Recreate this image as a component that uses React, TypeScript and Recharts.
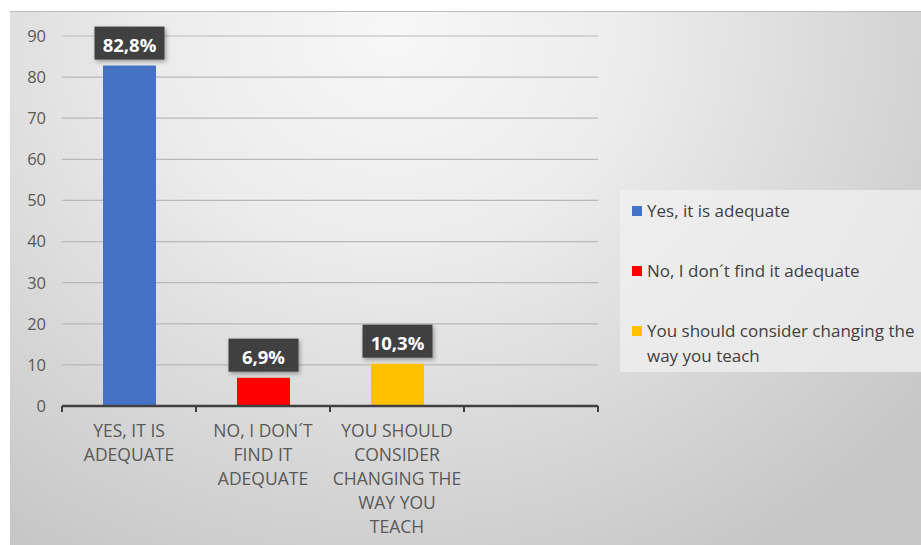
import React from "react";
import { BarChart, Bar, XAxis, YAxis, CartesianGrid, Cell, LabelList, Legend } from "recharts";

const categories = [
  "YES, IT IS ADEQUATE",
  "NO, I DON´T FIND IT ADEQUATE",
  "YOU SHOULD CONSIDER CHANGING THE WAY YOU TEACH",
  "",
];
const tickLines = [
  ["YES, IT IS", "ADEQUATE"],
  ["NO, I DON´T", "FIND IT", "ADEQUATE"],
  ["YOU SHOULD", "CONSIDER", "CHANGING THE", "WAY YOU", "TEACH"],
  [],
];
const values: (number | null)[] = [82.8, 6.9, 10.3, null];
const valueLabels = ["82,8%", "6,9%", "10,3%", ""];
const legendLabels = [
  "Yes, it is adequate",
  "No, I don´t find it adequate",
  "You should consider changing the way you teach",
];
const barColors = ["#4472C4", "#FF0000", "#FFC000", "#A5A5A5"];
const yTicks = [0, 10, 20, 30, 40, 50, 60, 70, 80, 90];

const data = categories.map((c, i) => ({ category: c, value: values[i] }));

const FONT = "'Open Sans', sans-serif";

const XTick = (props: any) => {
  const { x, y, index, width, visibleTicksCount } = props;
  const bw = width / visibleTicksCount;
  const lines = tickLines[index] || [];
  return (
    <g>
      <line x1={x - bw / 2} y1={y} x2={x - bw / 2} y2={y + 6} stroke="#404040" strokeWidth={2} />
      {index === visibleTicksCount - 1 && (
        <line x1={x + bw / 2} y1={y} x2={x + bw / 2} y2={y + 6} stroke="#404040" strokeWidth={2} />
      )}
      {lines.map((ln, i) => (
        <text
          key={i}
          x={x}
          y={y + 31 + i * 24}
          textAnchor="middle"
          fill="#595959"
          fontSize={17.5}
          fontFamily={FONT}
        >
          {ln}
        </text>
      ))}
    </g>
  );
};

const renderLabel = (props: any) => {
  const { x, y, width, index } = props;
  if (values[index] == null) return null;
  const cx = Number(x) + Number(width) / 2;
  const boxW = 70;
  const boxH = 33;
  const top = Number(y) - 6 - boxH;
  return (
    <g>
      <rect x={cx - boxW / 2} y={top} width={boxW} height={boxH} fill="#404040" filter="url(#lblShadow)" />
      <text
        x={cx}
        y={top + boxH / 2 + 1}
        textAnchor="middle"
        dominantBaseline="central"
        fill="#ffffff"
        fontWeight={700}
        fontSize={18.5}
        fontFamily={FONT}
      >
        {valueLabels[index]}
      </text>
    </g>
  );
};

const LegendContent = () => (
  <div
    style={{
      width: 301,
      height: 182,
      boxSizing: "border-box",
      background: "rgba(240,240,240,0.75)",
      paddingTop: 8,
      paddingLeft: 12,
      fontFamily: FONT,
      fontSize: 17,
      color: "#404040",
      textAlign: "left",
    }}
  >
    {legendLabels.map((l, i) => (
      <div key={i} style={{ display: "flex", alignItems: "flex-start", marginBottom: 35, lineHeight: "25px" }}>
        <div style={{ width: 10, height: 10, background: barColors[i], marginTop: 7.5, marginRight: 5, flex: "none" }} />
        <div style={{ flex: 1 }}>{l}</div>
      </div>
    ))}
  </div>
);

export default function App() {
  return (
    <div style={{ position: "absolute", left: 0, top: 0, width: 921, height: 545, background: "#ffffff", overflow: "hidden" }}>
      <div
        style={{
          position: "absolute",
          left: 10,
          top: 11,
          width: 911,
          height: 534,
          borderTop: "1px solid #bdbdbd",
          background:
            "radial-gradient(ellipse 75% 115% at 42% 4%, #f7f7f7 0%, #ececec 35%, #dadada 65%, #c6c6c6 100%)",
        }}
      />
      <div style={{ position: "absolute", left: 0, top: 0 }}>
        <BarChart width={921} height={545} data={data} margin={{ top: 36, right: 323, bottom: 0, left: 0 }}>
          <defs>
            <filter id="lblShadow" x="-20%" y="-20%" width="150%" height="160%">
              <feDropShadow dx="1.5" dy="2" stdDeviation="2" floodColor="#000" floodOpacity="0.35" />
            </filter>
          </defs>
          <CartesianGrid vertical={false} stroke="#b8b8b8" strokeWidth={1.2} />
          <XAxis
            dataKey="category"
            height={139}
            tickSize={0}
            tickMargin={0}
            tickLine={false}
            axisLine={{ stroke: "#404040", strokeWidth: 2.5 }}
            tick={<XTick />}
            interval={0}
          />
          <YAxis
            width={62}
            domain={[0, 90]}
            ticks={yTicks}
            tickSize={0}
            tickMargin={16}
            axisLine={false}
            tickLine={false}
            tick={{ fill: "#595959", fontSize: 16.5, fontFamily: FONT }}
          />
          <Legend
            layout="vertical"
            align="center"
            verticalAlign="middle"
            content={<LegendContent />}
            wrapperStyle={{ left: 620, top: 190, width: 301, height: 182 }}
          />
          <Bar dataKey="value" barSize={53} isAnimationActive={false}>
            {data.map((d, i) => (
              <Cell key={i} fill={barColors[i]} />
            ))}
            <LabelList dataKey="value" content={renderLabel} />
          </Bar>
        </BarChart>
      </div>
    </div>
  );
}
